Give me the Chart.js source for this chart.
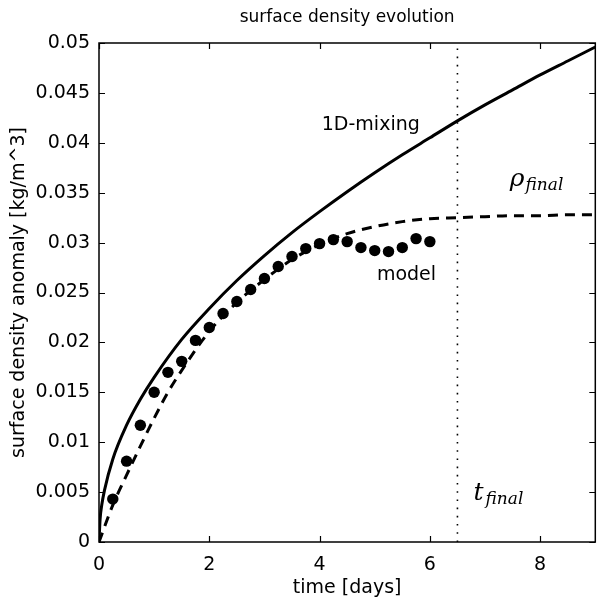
<!DOCTYPE html>
<html>
<head>
<meta charset="utf-8">
<script src="https://cdn.jsdelivr.net/npm/chart.js@4/dist/chart.umd.min.js"></script>
<style>
html,body{margin:0;padding:0;background:#fff;}
canvas{display:block;}
</style>
</head>
<body>
<canvas id="c" width="601" height="599"></canvas>
<script>
// ---- data ----
const titleText = "surface density evolution";
const xTitle = "time [days]";
const yTitle = "surface density anomaly [kg/m^3]";

const xTicks = [0, 2, 4, 6, 8];
const xTickLabels = ["0", "2", "4", "6", "8"];
const yTicks = [0, 0.005, 0.01, 0.015, 0.02, 0.025, 0.03, 0.035, 0.04, 0.045, 0.05];
const yTickLabels = ["0", "0.005", "0.01", "0.015", "0.02", "0.025", "0.03", "0.035", "0.04", "0.045", "0.05"];

// 1D-mixing (solid)
const mixT = [0, 0.02, 0.05, 0.1, 0.25, 0.5, 0.75, 1, 1.5, 2, 2.5, 3, 3.5, 4, 4.5, 5, 5.5, 6, 6.5, 7, 7.5, 8, 8.5, 9];
const mixV = [0, 0.0023, 0.0037, 0.0052, 0.0083, 0.0117, 0.0143, 0.0165, 0.0203, 0.0234, 0.0262, 0.0287, 0.0310, 0.0331, 0.0351, 0.0370, 0.0388, 0.0405, 0.0422, 0.0438, 0.0453, 0.0468, 0.0482, 0.0496];

// rho_final curve (dashed)
const dashT = [0, 0.25, 0.5, 0.75, 1, 1.25, 1.5, 2, 2.5, 3, 3.5, 4, 4.5, 5, 5.5, 6, 6.5, 7, 7.5, 8, 8.5, 9];
const dashV = [0, 0.0037, 0.0067, 0.0096, 0.0124, 0.0150, 0.0172, 0.0211, 0.0240, 0.0263, 0.0283, 0.0298, 0.0309, 0.0316, 0.0321, 0.0324, 0.0325, 0.0326, 0.0327, 0.0327, 0.0328, 0.0328];

// model (dots)
const modelT = [0.25, 0.5, 0.75, 1, 1.25, 1.5, 1.75, 2, 2.25, 2.5, 2.75, 3, 3.25, 3.5, 3.75, 4, 4.25, 4.5, 4.75, 5, 5.25, 5.5, 5.75, 6];
const modelV = [0.0043, 0.0081, 0.0117, 0.0150, 0.0170, 0.0181, 0.0202, 0.0215, 0.0229, 0.0241, 0.0253, 0.0264, 0.0276, 0.0286, 0.0294, 0.0299, 0.0303, 0.0301, 0.0295, 0.0292, 0.0291, 0.0295, 0.0304, 0.0301];

// t_final marker
const tFinal = 6.5;
const tFinalLineV = [0, 0.05];

// ---- helpers ----
const pts = (xs, ys) => xs.map((x, i) => ({x: x, y: ys[i]}));

const framePlugin = {
  id: 'frameTicks',
  afterDraw(chart) {
    const {ctx, chartArea: a, scales: {x, y}} = chart;
    ctx.save();
    ctx.strokeStyle = '#000';
    ctx.lineWidth = 1.5;
    ctx.strokeRect(a.left, a.top, a.right - a.left, a.bottom - a.top);
    ctx.lineWidth = 1.2;
    ctx.beginPath();
    xTicks.forEach(v => {
      const px = Math.round(x.getPixelForValue(v)) + 0.5;
      ctx.moveTo(px, a.bottom); ctx.lineTo(px, a.bottom - 6);
      ctx.moveTo(px, a.top); ctx.lineTo(px, a.top + 6);
    });
    yTicks.forEach(v => {
      const py = Math.round(y.getPixelForValue(v)) + 0.5;
      ctx.moveTo(a.left, py); ctx.lineTo(a.left + 6, py);
      ctx.moveTo(a.right, py); ctx.lineTo(a.right - 6, py);
    });
    ctx.stroke();

    // text annotations
    ctx.fillStyle = '#000';
    ctx.textBaseline = 'middle';
    ctx.textAlign = 'left';
    ctx.font = '19px "DejaVu Sans"';
    ctx.fillText('1D-mixing', x.getPixelForValue(4.04), y.getPixelForValue(0.0418));
    ctx.fillText('model', x.getPixelForValue(5.04), y.getPixelForValue(0.02675));

    ctx.textBaseline = 'alphabetic';
    // rho_final
    let px = x.getPixelForValue(7.45), py = y.getPixelForValue(0.0357);
    ctx.font = 'italic 25px "DejaVu Serif"';
    ctx.fillText('ρ', px, py);
    let w = ctx.measureText('ρ').width;
    ctx.font = 'italic 17px "DejaVu Serif"';
    ctx.fillText('final', px + w + 1, py + 4);
    // t_final
    px = x.getPixelForValue(6.79); py = y.getPixelForValue(0.0042);
    ctx.font = 'italic 25px "DejaVu Serif"';
    ctx.fillText('t', px, py);
    w = ctx.measureText('t').width;
    ctx.font = 'italic 17px "DejaVu Serif"';
    ctx.fillText('final', px + w + 2, py + 4);
    ctx.restore();
  }
};

Chart.defaults.color = '#000';
Chart.defaults.font.family = '"DejaVu Sans"';

new Chart(document.getElementById('c'), {
  type: 'scatter',
  data: {
    datasets: [
      {
        label: 'tfinal',
        data: pts([tFinal, tFinal], tFinalLineV),
        showLine: true, borderColor: '#000', borderWidth: 1.6,
        borderDash: [1.6, 6.6], pointRadius: 0, fill: false
      },
      {
        label: '1D-mixing',
        data: pts(mixT, mixV),
        showLine: true, borderColor: '#000', borderWidth: 3,
        pointRadius: 0, fill: false, cubicInterpolationMode: 'monotone'
      },
      {
        label: 'final',
        data: pts(dashT, dashV),
        showLine: true, borderColor: '#000', borderWidth: 3,
        borderDash: [10, 7], pointRadius: 0, fill: false, cubicInterpolationMode: 'monotone'
      },
      {
        label: 'model',
        data: pts(modelT, modelV),
        showLine: false, pointRadius: 5.7, pointBackgroundColor: '#000',
        pointBorderColor: '#000', pointBorderWidth: 0
      }
    ]
  },
  options: {
    responsive: false,
    animation: false,
    devicePixelRatio: 1,
    layout: {padding: {left: 0, right: 3, top: 0, bottom: 0}},
    plugins: {
      legend: {display: false},
      tooltip: {enabled: false},
      title: {
        display: true, text: titleText, color: '#000', fullSize: false,
        font: {size: 17, weight: 'normal', lineHeight: '22px'},
        padding: {top: 7, bottom: 14}
      }
    },
    scales: {
      x: {
        type: 'linear', min: 0, max: 9,
        afterBuildTicks: s => { s.ticks = xTicks.map(v => ({value: v})); },
        afterFit: s => { s.height = 57; },
        grid: {display: false, drawTicks: false},
        border: {display: false},
        ticks: {
          autoSkip: false, maxRotation: 0, padding: 12,
          font: {size: 19},
          callback: (v, i) => xTickLabels[i]
        },
        title: {display: true, text: xTitle, font: {size: 19}, padding: {top: 0, bottom: 0}}
      },
      y: {
        type: 'linear', min: 0, max: 0.05,
        afterBuildTicks: s => { s.ticks = yTicks.map(v => ({value: v})); },
        afterFit: s => { s.width = 99; },
        grid: {display: false, drawTicks: false},
        border: {display: false},
        ticks: {
          autoSkip: false, padding: 9,
          font: {size: 19},
          callback: (v, i) => yTickLabels[i]
        },
        title: {display: true, text: yTitle, font: {size: 19}, padding: {top: 8, bottom: 0}}
      }
    }
  },
  plugins: [framePlugin]
});
</script>
</body>
</html>
